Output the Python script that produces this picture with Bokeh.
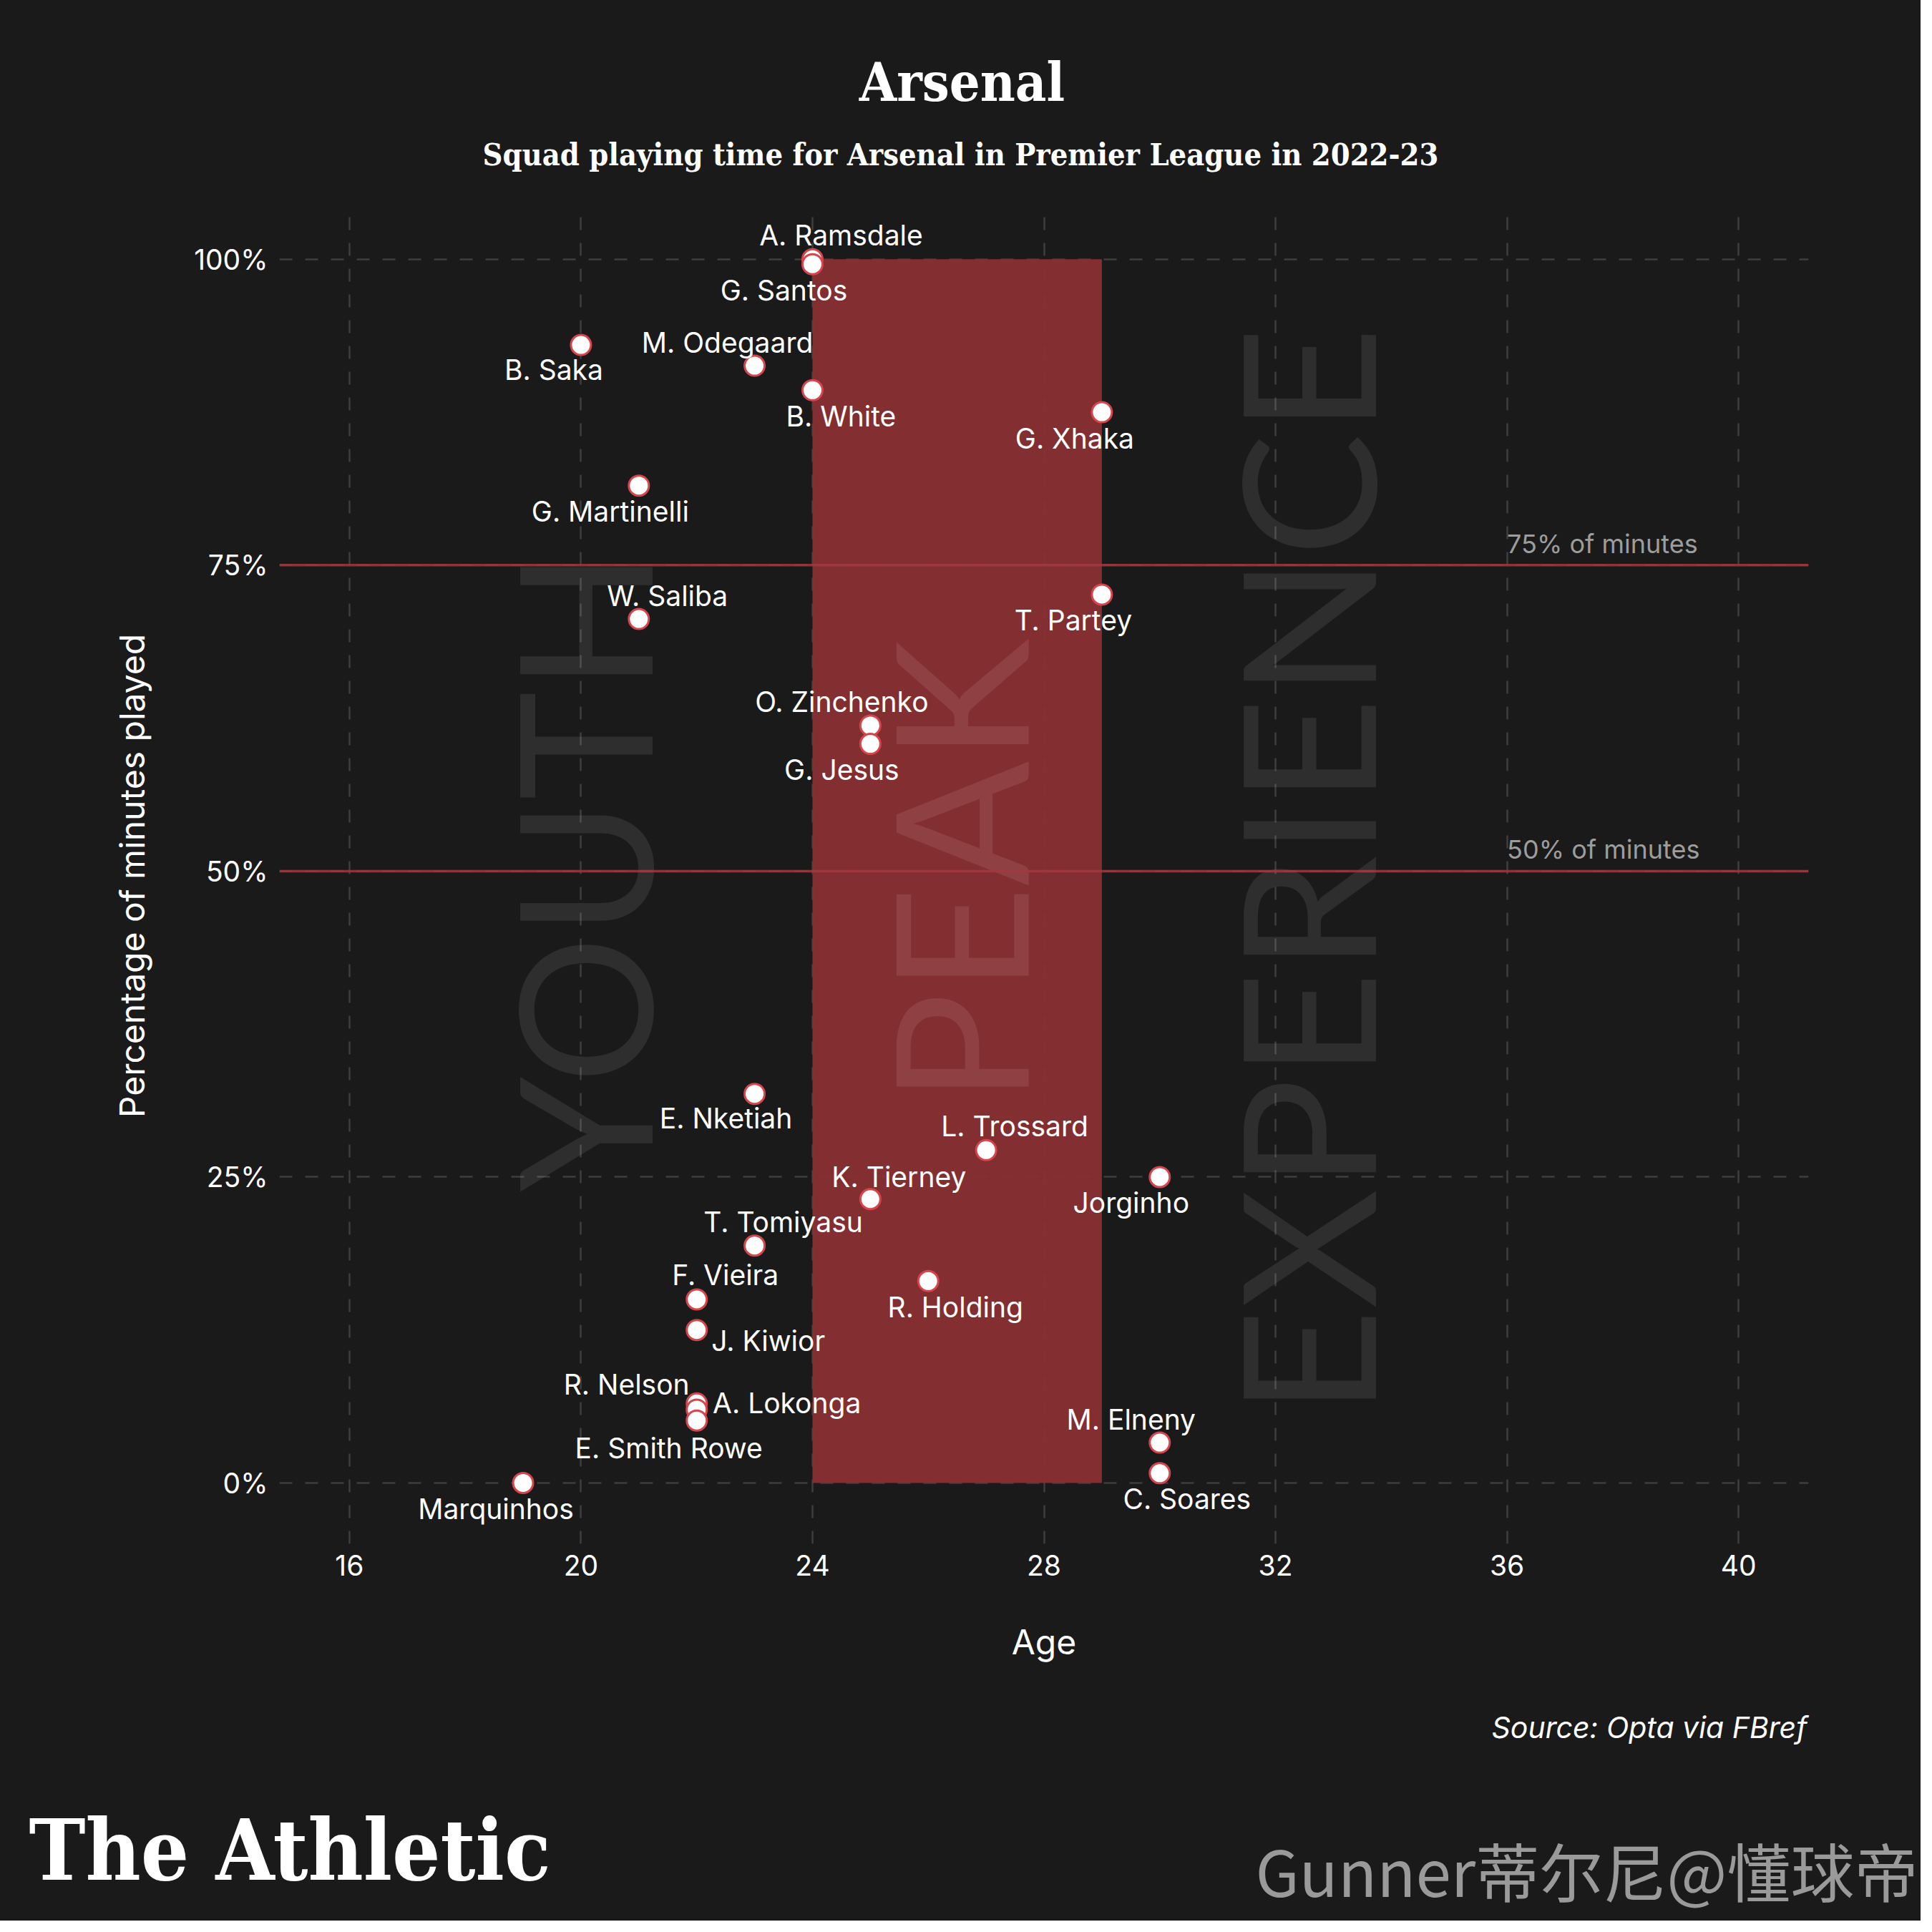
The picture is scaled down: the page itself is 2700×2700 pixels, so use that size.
import math
from bokeh.plotting import figure
from bokeh.layouts import column
from bokeh.models import Label, Span, ColumnDataSource, PrintfTickFormatter
from bokeh.core.properties import value
from bokeh.embed import file_html
from bokeh.resources import INLINE

# ---------------- data ----------------
players = ["A. Ramsdale", "G. Santos", "B. Saka", "M. Odegaard", "B. White", "G. Xhaka",
           "G. Martinelli", "T. Partey", "W. Saliba", "O. Zinchenko", "G. Jesus",
           "E. Nketiah", "L. Trossard", "Jorginho", "K. Tierney", "T. Tomiyasu",
           "R. Holding", "F. Vieira", "J. Kiwior", "R. Nelson", "A. Lokonga",
           "E. Smith Rowe", "M. Elneny", "C. Soares", "Marquinhos"]
ages = [24, 24, 20, 23, 24, 29, 21, 29, 21, 25, 25, 23, 27, 30, 25, 23, 26, 22, 22,
        22, 22, 22, 30, 30, 19]
minutes_pct = [100.0, 99.6, 93.0, 91.3, 89.3, 87.5, 81.5, 72.6, 70.6, 61.9, 60.4,
               31.8, 27.2, 25.0, 23.2, 19.4, 16.5, 15.0, 12.5, 6.5, 6.0, 5.1, 3.3, 0.8, 0.0]

# label placement (screen px offsets from each point; y down)
label_dx = [40, -40, -38, -38, 40, -38, -40, -40, 40, -40, -40, -40, 40, -40, 40, 40,
            38, 40, 100, -98, 126, -39, -40, 38, -38]
label_dy = [-34, 36, 34, -33, 36, 36, 36, 36, -33, -33, 36, 34, -34, 36, -31, -33,
            36, -34, 15, -27, -9, 38, -33, 36, 36]

x_ticks = [16, 20, 24, 28, 32, 36, 40]
y_ticks = [0, 25, 50, 75, 100]

peak_ages = [24, 29]
thresholds = [75, 50]
threshold_labels = ["75% of minutes", "50% of minutes"]

eras = ["YOUTH", "PEAK", "EXPERIENCE"]
era_ages = [20, 26.5, 32.5]
era_pct = [50, 50, 50]

TITLE = "Arsenal"
SUBTITLE = "Squad playing time for Arsenal in Premier League in 2022-23"
SOURCE = "Source: Opta via FBref"
BRAND = "The Athletic"
WATERMARK = "Gunner蒂尔尼@懂球帝"

# ---------------- style / layout ----------------
BG = "#1a1a1a"
SANS = "Inter"
SLAB = "DejaVu Serif Condensed"

W = 2684
H_HEAD, H_MAIN, H_FOOT = 290, 2082, 312
BL, BR, BB = 390, 157, 215
XR = (14.79, 41.21)
YR = (-4.97, 104.2)


def blank(h):
    return figure(width=W, height=h, output_backend="svg", toolbar_location=None,
                  x_range=(0, W), y_range=(h, 0), x_axis_type=None, y_axis_type=None,
                  background_fill_color=BG, border_fill_color=BG,
                  outline_line_color=None, min_border=0, title=None,
                  frame_align=False)


# ---------- header ----------
head = blank(H_HEAD)
head.add_layout(Label(x=1344, y=114, text=TITLE, text_font=SLAB, text_font_style="bold",
                      text_font_size="75px", text_color="white", text_align="center",
                      text_baseline="alphabetic"))
head.add_layout(Label(x=1342, y=215, text=SUBTITLE, text_font=SLAB, text_font_style="bold",
                      text_font_size="43px", text_color="white", text_align="center",
                      text_baseline="alphabetic"))

# ---------- main chart ----------
p = figure(width=W, height=H_MAIN, output_backend="svg", toolbar_location=None,
           x_range=XR, y_range=YR, title=None, frame_align=False,
           background_fill_color=BG, border_fill_color=BG, outline_line_color=None,
           min_border_left=BL, min_border_right=BR, min_border_top=0,
           min_border_bottom=BB)

p.xaxis.ticker = x_ticks
p.yaxis.ticker = y_ticks
p.yaxis.formatter = PrintfTickFormatter(format="%d%%")
for ax in (p.xaxis, p.yaxis):
    ax.axis_line_color = None
    ax.major_tick_line_color = None
    ax.minor_tick_line_color = None
    ax.major_tick_out = 0
    ax.major_tick_in = 0
    ax.minor_tick_out = 0
    ax.major_label_text_color = "white"
    ax.major_label_text_font = SANS
    ax.major_label_text_font_size = "39px"
    ax.axis_label_text_color = "white"
    ax.axis_label_text_font = SANS
    ax.axis_label_text_font_size = "48px"
    ax.axis_label_text_font_style = "normal"
p.xaxis.axis_label = "Age"
p.yaxis.axis_label = "Percentage of minutes played"
p.xaxis.major_label_standoff = 15
p.yaxis.major_label_standoff = 16
p.xaxis.axis_label_standoff = 60
p.yaxis.axis_label_standoff = 54

p.grid.grid_line_color = "#3e3e3e"
p.grid.grid_line_width = 2.5
p.grid.grid_line_dash = "18 18"

p.quad(left=[peak_ages[0]], right=[peak_ages[1]], bottom=[min(y_ticks)], top=[max(y_ticks)],
       fill_color="#8a3033", fill_alpha=0.94, line_color=None)

p.text(x=era_ages, y=era_pct, text=eras, angle=math.pi / 2,
       text_font=value("Lato"), text_font_size="258px", text_align="center",
       text_baseline="middle", text_color="white", text_alpha=0.09)

for t, lab in zip(thresholds, threshold_labels):
    p.add_layout(Span(location=t, dimension="width", line_color="#a23a3f",
                      line_width=3.5, line_alpha=0.85))
    p.add_layout(Label(x=36, y=t, y_offset=30, text=lab, text_font=SANS,
                       text_font_size="36px", text_color="#9d9d9d",
                       text_align="left", text_baseline="alphabetic"))

src = ColumnDataSource(dict(age=ages, pct=minutes_pct, name=players,
                            dx=label_dx, dy=label_dy))
p.scatter("age", "pct", source=src, size=28, fill_color="white",
          line_color="#d6454b", line_width=3)
p.text("age", "pct", text="name", source=src, x_offset="dx", y_offset="dy",
       text_font=value(SANS), text_font_size="39px", text_color="white",
       text_align="center", text_baseline="middle")

# ---------- footer ----------
foot = blank(H_FOOT)
foot.add_layout(Label(x=2525, y=41, text=SOURCE, text_font=SANS, text_font_style="italic",
                      text_font_size="41px", text_color="white", text_align="right",
                      text_baseline="alphabetic"))
foot.add_layout(Label(x=40, y=213, text=BRAND, text_font=SLAB, text_font_style="bold",
                      text_font_size="118px", text_color="white", text_align="left",
                      text_baseline="alphabetic"))
foot.add_layout(Label(x=2680, y=240, text=WATERMARK, text_font="Noto Sans CJK SC",
                      text_font_size="89px", text_color="#9a9a9a", text_align="right",
                      text_baseline="alphabetic"))

layout = column(head, p, foot, spacing=0, background=BG)
open("out.html", "w").write(file_html(layout, INLINE))
